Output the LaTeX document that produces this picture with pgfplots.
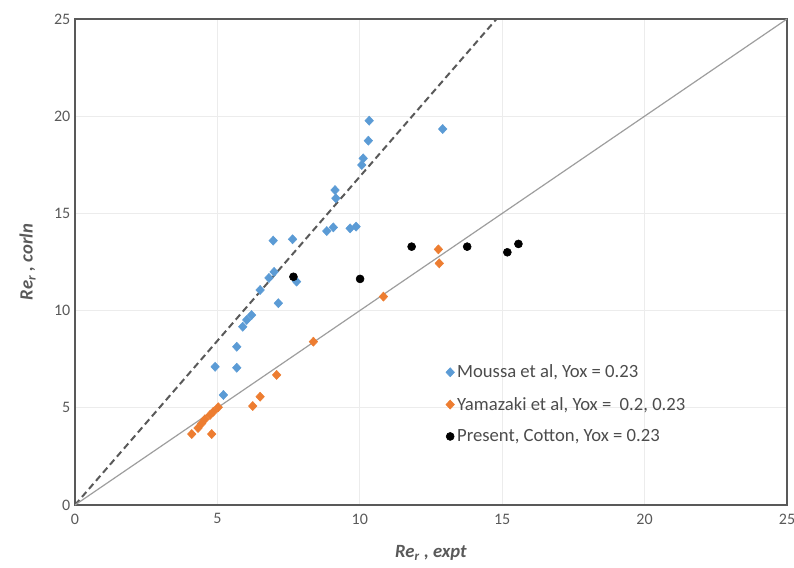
\documentclass[border=0pt]{standalone}
\usepackage{pgfplots}
\pgfplotsset{compat=1.18}
\usepackage{fontspec}
\setmainfont{Carlito}

\definecolor{mblue}{HTML}{5B9BD5}
\definecolor{morange}{HTML}{ED7D31}
\definecolor{framegray}{HTML}{595959}
\definecolor{gridgray}{HTML}{ECECEC}

\begin{document}
\begin{tikzpicture}
\begin{axis}[
    name=ax,
    scale only axis,
    width=534pt, height=364.5pt,
    xmin=0, xmax=25, ymin=0, ymax=25,
    xtick={0,5,...,25}, ytick={0,5,...,25},
    grid=major,
    major grid style={gridgray, line width=0.8pt},
    axis line style={framegray, line width=1.6pt},
    tick style={draw=none},
    ticklabel style={font=\fontsize{12}{14}\selectfont, text=black!65},
    xticklabel style={yshift=-3pt},
    /pgf/number format/assume math mode=true,
    xlabel={\textit{Re\textsubscript{r} , expt}},
    ylabel={\textit{Re\textsubscript{r} , corln}},
    label style={font=\fontsize{14}{16}\selectfont\bfseries, text=black!65},
    xlabel style={yshift=-9pt},
    ylabel style={yshift=7pt},
    legend style={draw=none, fill=none, at={(rel axis cs:0.515,0.30)}, anchor=north west,
        font=\fontsize{14}{16}\selectfont, text=black!70, row sep=9pt,
        legend cell align=left},
    legend image code/.code={\draw[#1] plot coordinates {(0.12cm,0cm)};},
]
\addplot[dashed, line width=1.5pt, dash pattern=on 5pt off 3pt, framegray, forget plot]
    coordinates {(0,0) (14.8,25)};
\addplot[black!38, line width=0.9pt, forget plot]
    coordinates {(0,0) (25,25)};

\addplot[only marks, mark=diamond*, mark size=3.4pt, mark options={xscale=1.25}, color=mblue, draw=mblue]
    coordinates {
    (10.33,19.77) (10.30,18.74) (10.12,17.83) (10.07,17.49) (12.91,19.34)
    (9.13,16.20) (9.16,15.78) (8.84,14.09) (9.07,14.28) (9.66,14.23) (9.87,14.32)
    (6.96,13.60) (7.64,13.67) (6.99,11.99) (6.81,11.68) (7.78,11.49) (6.50,11.06)
    (7.14,10.38) (6.20,9.77) (6.03,9.52) (5.89,9.17) (5.68,8.14) (4.92,7.11)
    (5.68,7.06) (5.21,5.66)
    };
\addlegendentry{Moussa et al, Yox = 0.23}

\addplot[only marks, mark=diamond*, mark size=3.4pt, mark options={xscale=1.25}, color=morange, draw=morange]
    coordinates {
    (12.76,13.15) (12.79,12.43) (10.83,10.72) (8.37,8.40) (7.08,6.69) (6.50,5.57)
    (6.24,5.09) (5.03,5.03) (4.86,4.80) (4.74,4.63) (4.56,4.41) (4.45,4.20)
    (4.32,3.96) (4.10,3.65) (4.80,3.65)
    };
\addlegendentry{Yamazaki et al, Yox =\ \ 0.2, 0.23}

\addplot[only marks, mark=*, mark size=3pt, color=black]
    coordinates {
    (7.67,11.74) (10.01,11.63) (11.82,13.29) (13.77,13.29) (15.18,13.00) (15.57,13.43)
    };
\addlegendentry{Present, Cotton, Yox = 0.23}
\end{axis}
\pgfresetboundingbox
\path (ax.south west) ++(-56.25pt,-46.5pt) rectangle ([xshift=5.25pt,yshift=14.25pt]ax.north east);
\end{tikzpicture}
\end{document}
